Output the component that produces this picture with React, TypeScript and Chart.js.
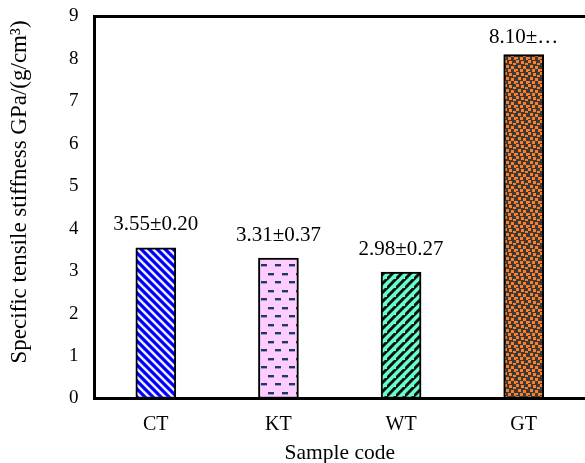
import React, { useEffect, useRef } from "react";
import { Chart, registerables } from "chart.js";

Chart.register(...registerables);

const categories = ["CT", "KT", "WT", "GT"];
const stiffness = [3.55, 3.31, 2.98, 8.1];
const valueLabels = ["3.55±0.20", "3.31±0.37", "2.98±0.27", "8.10±…"];
const yMin = 0;
const yMax = 9;
const yStep = 1;
const yTitle = "Specific tensile stiffness GPa/(g/cm³)";
const xTitle = "Sample code";

const FONT = "'Liberation Serif', 'Times New Roman', serif";

function makeTile(w: number, h: number, draw: (c: CanvasRenderingContext2D) => void) {
  const cv = document.createElement("canvas");
  cv.width = w;
  cv.height = h;
  const c = cv.getContext("2d")!;
  draw(c);
  return c.createPattern(cv, "repeat")!;
}

function diagPattern(bg: string, fg: string, s: number, lw: number, back: boolean) {
  return makeTile(s, s, (c) => {
    c.fillStyle = bg;
    c.fillRect(0, 0, s, s);
    c.strokeStyle = fg;
    c.lineWidth = lw;
    for (let k = -1; k <= 1; k++) {
      c.beginPath();
      if (back) {
        c.moveTo(-2, -2 + k * s);
        c.lineTo(s + 2, s + 2 + k * s);
      } else {
        c.moveTo(-2, k * s + 2);
        c.lineTo(s + 2, k * s - s - 2);
      }
      c.stroke();
    }
  });
}

function dashPattern() {
  return makeTile(14, 17, (c) => {
    c.fillStyle = "#FFCCFF";
    c.fillRect(0, 0, 14, 17);
    c.fillStyle = "#9999CC";
    c.fillRect(2, 3, 6, 1);
    c.fillRect(9, 11, 5, 1);
    c.fillRect(0, 11, 1, 1);
    c.fillStyle = "#1F3864";
    c.fillRect(2, 1, 6, 2);
    c.fillRect(9, 9, 5, 2);
    c.fillRect(0, 9, 1, 2);
  });
}

function dotPattern() {
  return makeTile(12, 12, (c) => {
    c.fillStyle = "#3A3A3A";
    c.fillRect(0, 0, 12, 12);
    c.fillStyle = "#FF7F27";
    const sq = [
      [0, 0, 3, 3], [5, 1, 3, 3], [9, 3, 3, 2], [2, 5, 3, 3],
      [7, 6, 3, 3], [0, 9, 2, 2], [4, 9, 3, 3], [10, 9, 2, 3],
    ];
    sq.forEach(([x, y, w, h]) => c.fillRect(x, y, w, h));
  });
}

const framePlugin = {
  id: "frameAndLabels",
  afterDatasetsDraw(chart: any) {
    const { ctx, chartArea } = chart;
    const W = chart.width;
    const H = chart.height;
    ctx.save();
    ctx.strokeStyle = "#000";
    ctx.lineWidth = 3;
    ctx.beginPath();
    ctx.moveTo(W + 2, chartArea.top);
    ctx.lineTo(chartArea.left, chartArea.top);
    ctx.lineTo(chartArea.left, chartArea.bottom);
    ctx.lineTo(W + 2, chartArea.bottom);
    ctx.stroke();

    const meta = chart.getDatasetMeta(0);
    ctx.fillStyle = "#000";
    ctx.font = `21px ${FONT}`;
    ctx.textAlign = "center";
    ctx.textBaseline = "middle";
    meta.data.forEach((bar: any, i: number) => {
      const y = Math.max(bar.y - 23, chartArea.top + 21);
      ctx.fillText(valueLabels[i], bar.x, y);
    });

    // axis titles
    ctx.textBaseline = "alphabetic";
    ctx.font = `21.5px ${FONT}`;
    ctx.fillText(xTitle, (chartArea.left + chartArea.right) / 2, H - 4);
    ctx.font = `23px ${FONT}`;
    ctx.translate(26, 192);
    ctx.rotate(-Math.PI / 2);
    ctx.fillText(yTitle, 0, 0);
    ctx.restore();
  },
};

export default function App() {
  const ref = useRef<HTMLCanvasElement>(null);

  useEffect(() => {
    if (!ref.current) return;
    const patterns = [
      diagPattern("#0000FF", "#EEEEFF", 8, 2.5, true),
      dashPattern(),
      diagPattern("#66FFCC", "#111111", 9, 3, false),
      dotPattern(),
    ];
    const chart = new Chart(ref.current, {
      type: "bar",
      data: {
        labels: categories,
        datasets: [
          {
            data: stiffness,
            backgroundColor: patterns as any,
            borderColor: "#000",
            borderWidth: 2,
            borderSkipped: false,
            barThickness: 40,
          },
        ],
      },
      options: {
        responsive: false,
        animation: false,
        layout: { padding: { top: 16.5, right: -3, left: 0, bottom: 0 } },
        plugins: { legend: { display: false }, tooltip: { enabled: false } },
        scales: {
          x: {
            grid: { display: false, drawTicks: false },
            border: { display: false },
            ticks: { color: "#000", font: { family: FONT, size: 20 }, padding: 14 },
            afterFit: (s: any) => {
              s.height = 64.5;
              s.paddingLeft = 0;
              s.paddingRight = 0;
            },
          },
          y: {
            min: yMin,
            max: yMax,
            grid: { display: false, drawTicks: false },
            border: { display: false },
            ticks: { stepSize: yStep, color: "#000", font: { family: FONT, size: 19 }, padding: 16 },
            afterFit: (s: any) => {
              s.width = 94.5;
              s.paddingTop = 0;
              s.paddingBottom = 0;
            },
          },
        },
      },
      plugins: [framePlugin],
    });
    return () => chart.destroy();
  }, []);

  return (
    <div style={{ position: "absolute", left: 0, top: 0 }}>
      <canvas ref={ref} width={585} height={463} />
    </div>
  );
}
